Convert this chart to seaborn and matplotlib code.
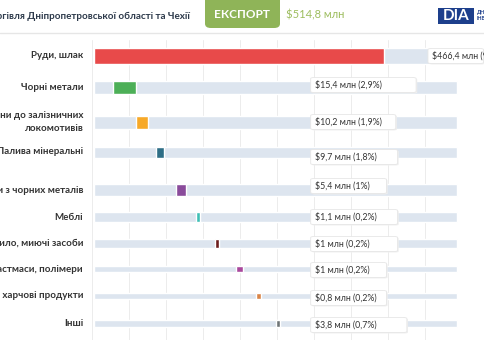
import matplotlib
matplotlib.use('Agg')
import matplotlib.pyplot as plt
import seaborn as sns
from matplotlib.patches import FancyBboxPatch, Rectangle

# Data (export, $ mln)
categories = ['Руди, шлак', 'Чорні метали', 'Частини до залізничних\nлокомотивів',
              'Палива мінеральні', 'Вироби з чорних металів', 'Меблі',
              'Мило, миючі засоби', 'Пластмаси, полімери', 'Різні харчові продукти', 'Інші']
values = [466.4, 15.4, 10.2, 9.7, 5.4, 1.1, 1.0, 1.0, 0.8, 3.8]
shares = ['90,6%', '2,9%', '1,9%', '1,8%', '1%', '0,2%', '0,2%', '0,2%', '0,2%', '0,7%']
# floating segments (stylised waterfall), in axis units
seg_start = [0.05, 0.57, 1.19, 1.73, 2.27, 2.81, 3.32, 3.89, 4.43, 4.97]
seg_end = [7.89, 1.19, 1.51, 1.95, 2.54, 2.92, 3.43, 4.08, 4.57, 5.08]
colors = ['#e84a4a', '#4caf57', '#f7a928', '#2e6e86', '#8a4b9b',
          '#3fbfb5', '#6b1c1c', '#a9479c', '#d98447', '#6f7577']

# layout: row centres and bar heights in pixel units
row_y = [56, 87, 122, 152, 190, 217, 243, 269, 296, 323]
row_h = [16, 13, 13, 11, 12, 10, 9, 6, 6, 7]
label_dy = [0, -2, 0, 5, -4, 0, 1, 1, 2, 2]
box_w = [1.5, 2.85, 2.3, 2.35, 2.05, 2.35, 2.35, 2.05, 2.05, 2.6]

sns.set_theme(style='white')
plt.rcParams['font.family'] = ['Lato', 'DejaVu Sans']

fig = plt.figure(figsize=(4.85, 3.6), dpi=100)
fig.patch.set_facecolor('white')

ax = fig.add_axes([92 / 485, 20 / 360, 370 / 485, 300 / 360])
ax.set_xlim(0, 10)
ax.set_ylim(340, 40)
for s in ax.spines.values():
    s.set_visible(False)
ax.set_xticks([])
ax.set_yticks([])

for gx in range(0, 11):
    ax.axvline(gx, color='#ececec', lw=0.7, zorder=0)

# background tracks
ax.barh(row_y, [9.81] * len(row_y), height=row_h, left=0.05, color='#dde5ef', zorder=1)
# coloured segments
ax.barh(row_y, [e - s for s, e in zip(seg_start, seg_end)], height=row_h,
        left=seg_start, color=colors, zorder=2)

for i, cat in enumerate(categories):
    ax.text(-0.24, row_y[i], cat, ha='right', va='center', fontsize=7.0,
            fontweight='bold', color='#333333', clip_on=False, linespacing=1.55)
    v = f'{values[i]:.1f}'.replace('.', ',').replace(',0', '')
    txt = f'${v} млн ({shares[i]})'
    lx = 9.2 if i == 0 else 6.03
    yc = row_y[i] + label_dy[i]
    bx = lx - 0.12
    # soft shadow then box
    ax.add_patch(FancyBboxPatch((bx + 0.03, yc - 6.5), box_w[i], 15,
                                boxstyle='round,pad=0,rounding_size=0.1',
                                mutation_aspect=10, fc='#f0f0f0', ec='none',
                                zorder=3, clip_on=False))
    ax.add_patch(FancyBboxPatch((bx, yc - 7.5), box_w[i], 15,
                                boxstyle='round,pad=0,rounding_size=0.1',
                                mutation_aspect=10, fc='white', ec='#e6e6e6',
                                lw=0.6, zorder=4, clip_on=False))
    ax.text(lx, yc, txt, ha='left', va='center', fontsize=6.3,
            color='#333333', zorder=5, clip_on=False)

# header
fig.add_artist(plt.Line2D([0, 1], [1 - 33 / 360, 1 - 33 / 360], color='#e6e6e6', lw=1))
fig.text(190 / 485, 1 - 16 / 360, 'Торгівля Дніпропетровської області та Чехії',
         ha='right', va='center', fontsize=7.1, fontweight='bold', color='#2d3a4b')
fig.add_artist(FancyBboxPatch((205 / 485, 1 - 28 / 360), 75 / 485, 34 / 360,
                              boxstyle='round,pad=0,rounding_size=0.012',
                              transform=fig.transFigure, fc='#8fb458', ec='none'))
fig.text(242 / 485, 1 - 15 / 360, 'ЕКСПОРТ', ha='center', va='center', fontsize=8.5,
         fontweight='bold', color='white')
fig.text(286 / 485, 1 - 15 / 360, '$514,8 млн', ha='left', va='center', fontsize=8,
         color='#9dbd5e')
fig.add_artist(Rectangle((438 / 485, 1 - 24 / 360), 36 / 485, 16 / 360,
                         transform=fig.transFigure, fc='#1d3f8c', ec='none'))
fig.text(456 / 485, 1 - 16.5 / 360, 'DIA', ha='center', va='center', fontsize=11,
         fontweight='bold', color='white')
fig.text(477 / 485, 1 - 15.5 / 360, 'ДНІПРОВСЬКА\nІНВЕСТИЦІЙНА', ha='left', va='center',
         fontsize=3.8, fontweight='bold', color='#1d3f8c', linespacing=1.1)

fig.savefig('out.png', dpi=100, facecolor='white')
